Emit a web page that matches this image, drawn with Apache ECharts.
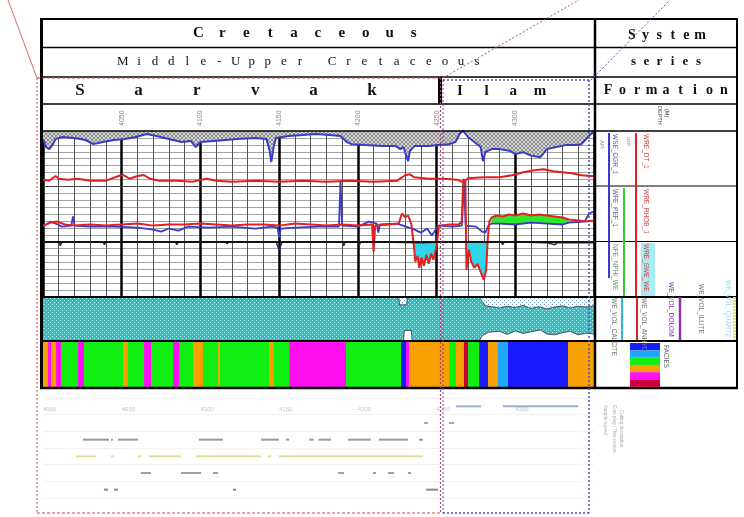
<!DOCTYPE html>
<html>
<head>
<meta charset="utf-8">
<script src="https://cdn.jsdelivr.net/npm/echarts@6/dist/echarts.min.js"></script>
<style>
  html, body { margin: 0; padding: 0; background: #fff; }
  #chart { width: 744px; height: 517px; }
</style>
</head>
<body>
<div id="chart"></div>
<script>
// depth scale (m)
var depthMin = 4000;
var depthMax = 4350;
var depthTicks = [4050, 4100, 4150, 4200, 4250, 4300];

// log curves, [depth, track value 0-120]
var grCurve = [[4000,114.2],[4002,108.4],[4004,106.9],[4006,109.8],[4008,114.2],[4012,115.6],[4020,114.9],[4027,113.5],[4032,110.5],[4038,112],[4045,113.5],[4052,114.2],[4059,115.6],[4066,117.8],[4072,116.4],[4080,114.2],[4088,112],[4094,112.7],[4097,108.4],[4100,112],[4108,112.7],[4116,113.5],[4123,114.2],[4135,114.9],[4142,114.2],[4144,105.5],[4145,97.5],[4146.5,108.4],[4148,114.9],[4156,116.4],[4165,117.1],[4173,117.8],[4182,117.1],[4189,116.4],[4193,112],[4196,110.5],[4205,109.8],[4215,109.1],[4224,109.1],[4227,106.9],[4229,108.4],[4231,101.1],[4232,98.2],[4233,105.5],[4236,109.1],[4245,109.1],[4251,109.8],[4258,110.5],[4262,112],[4265,118.5],[4267,120],[4270,115.6],[4274,112],[4278,108.4],[4279.5,98.2],[4281,104.7],[4285,106.9],[4290,106.9],[4297,105.5],[4300,103.3],[4305,104.7],[4310,102.2],[4316,101.1],[4320,106.9],[4326,108.4],[4332,109.8],[4338,109.8],[4342,110.5],[4345,114.2],[4348,117.8],[4350,119.3]];
var rtCurve = [[4000,84.8],[4004,84.1],[4008,87.5],[4010,85.5],[4016,84.8],[4022,85.5],[4030,84.1],[4040,84.1],[4048,87.5],[4051,88.2],[4055,85.5],[4060,87.5],[4064,88.2],[4068,85.5],[4074,84.1],[4085,84.1],[4095,83.4],[4104,85.5],[4110,84.1],[4120,83.4],[4135,84.1],[4150,83.4],[4165,84.1],[4180,83.4],[4195,84.1],[4210,83.4],[4225,84.1],[4230,88],[4233,88.7],[4236,86.5],[4245,85.5],[4255,85.5],[4263,84.8],[4267,82.9],[4270,85.8],[4280,86.5],[4290,86.5],[4298,88],[4305,90.2],[4312,91.6],[4318,92.4],[4324,90.9],[4330,90.2],[4336,89.5],[4342,88],[4350,87.3]];
var rhobCurve = [[4000,51.6],[4005,53.8],[4009,54.5],[4014,52.4],[4020,51.6],[4030,52.4],[4040,51.6],[4050,52.4],[4060,53.1],[4070,51.6],[4080,52.4],[4090,52.4],[4100,53.1],[4110,52.4],[4120,51.6],[4130,52.4],[4140,52.4],[4150,51.6],[4160,53.1],[4170,52.4],[4180,51.6],[4190,52.4],[4200,51.6],[4209,52.4],[4210,32.7],[4211,51.6],[4220,52.4],[4226,53.1],[4228,60.4],[4230,57.5],[4232,58.9],[4234,52.4],[4235.5,37.8],[4236.5,25.5],[4238,29.8],[4239,21.1],[4240.5,28.4],[4242,22.5],[4243.5,30.5],[4245,24],[4246.5,31.3],[4248,26.9],[4249.5,34.2],[4250.5,41.5],[4251.5,51.6],[4258,52.4],[4264,52.4],[4266,54.5],[4267,85.1],[4268.3,83.6],[4269,19.6],[4270.5,34.2],[4272,25.5],[4274,21.1],[4276,24],[4278,18.2],[4280,12.4],[4281.5,19.6],[4282.5,41.5],[4283.5,54.5],[4285,57.5],[4288,58.9],[4292,58.2],[4296,59.6],[4300,58.9],[4305,60.4],[4310,58.9],[4315,59.6],[4320,58.9],[4325,58.2],[4330,57.5],[4334,56],[4340,55.3],[4345,54.5],[4350,55.3]];
var nphiCurve = [[4000,50.9],[4005,54.5],[4008,53.1],[4012,50.9],[4018,51.6],[4019,58.2],[4020,51.6],[4030,50.9],[4045,50.9],[4060,50.2],[4070,48.7],[4075,47.3],[4080,49.5],[4086,48],[4092,50.9],[4105,50.2],[4120,50.9],[4135,49.5],[4145,50.9],[4149,50.2],[4150,42.9],[4151,49.5],[4160,50.2],[4175,50.9],[4188,50.9],[4189,83.6],[4190,51.6],[4200,50.9],[4207,54.5],[4212,53.1],[4213,46.5],[4214,52.4],[4225,53.1],[4236,48.7],[4240,46.5],[4244,49.5],[4247,44.4],[4251,51.6],[4260,50.9],[4266,51.6],[4267.5,83.6],[4268.5,51.6],[4275,50.9],[4279,47.3],[4281,46.5],[4283,51.6],[4285,53.1],[4290,53.1],[4300,52.4],[4310,53.8],[4320,53.1],[4330,52.4],[4334,53.8],[4344,54.5],[4347,60.4],[4350,61.8]];
var pefCurve = [[4000,40],[4010,40],[4011,37.1],[4012,40],[4038,40],[4039,37.8],[4040,40],[4084,40],[4085,37.8],[4086,40],[4116,40],[4117,38.5],[4118,40],[4148,40],[4150,34.2],[4152,40],[4190,40],[4191,37.1],[4192,40],[4200,40],[4201,37.8],[4202,40],[4240,39.3],[4260,40],[4291,40],[4292,37.8],[4293,40],[4320,39.3],[4325,37.8],[4327,39.3],[4350,39.3]];

// fills
var cyanZones = [[4235.5, 4250.5], [4269, 4282.5]];
var greenZone = [4284, 4334];

// lithology volume boundaries (%), top = dolomite limit, base = shale limit
var lithTop = [[4000,100],[4226,100],[4226.5,82],[4231,82],[4231.5,100],[4277,100],[4279,90],[4281,80],[4285,78],[4290,75],[4295,79],[4300,76],[4305,81],[4310,74],[4315,78],[4320,73],[4325,77],[4330,80],[4335,75],[4340,79],[4345,77],[4350,80]];
var lithBase = [[4000,0],[4229,0],[4229.5,24],[4234,24],[4234.5,0],[4277,0],[4279,12],[4283,20],[4290,22],[4295,15],[4300,23],[4305,17],[4310,21],[4316,25],[4320,16],[4325,14],[4330,19],[4335,22],[4340,14],[4345,18],[4350,16]];

// facies
var faciesColors = ['#1a1aff', '#1ea8ff', '#11ee11', '#f7a000', '#ff10f0', '#c8003c'];
var faciesTop = [4000, 4003.2, 4005.1, 4008.3, 4011.4, 4022.2, 4026.0, 4050.8, 4054.0, 4064.2, 4068.6, 4082.6, 4086.4, 4095.3, 4101.6, 4111.2, 4112.4, 4143.6, 4146.7, 4156.3, 4192.5, 4227.4, 4230.6, 4232.5, 4257.9, 4262.3, 4267.4, 4270.0, 4277.0, 4282.7, 4289.0, 4295.4, 4333.5];
var faciesCode = [3,4,3,4,2,4,2,3,2,4,2,4,2,3,2,3,2,3,2,4,2,0,4,3,2,3,5,2,0,3,1,0,3];

// sample intervals (lower panel)
var sampleRow  = [0,0, 1,1, 2,2,2,2,2,2,2,2,2,2,2, 3,3,3,3,3,3,3, 4,4,4,4,4,4,4, 5,5,5,5];
var sampleTop  = [4262.3,4292.2, 4242,4257.9, 4025.4,4043.2,4047.6,4099.1,4138.5,4154.4,4169,4175,4193.7,4213.4,4238.8, 4021,4043.2,4060.3,4067.3,4097.2,4142.9,4149.9, 4062.2,4087.7,4108,4187.4,4209.6,4219.1,4231.8, 4038.7,4045.1,4120.7,4243.3];
var sampleBase = [4278.2,4339.8, 4244.6,4261.1, 4041.9,4044.5,4060.3,4114.3,4149.9,4156.3,4172,4183,4208.3,4231.8,4241.4, 4033.7,4045.1,4062.2,4087.7,4138.5,4144.8,4241.4, 4068.6,4100.4,4111.2,4191.2,4211.5,4223,4233.8, 4041.3,4047.6,4122.6,4250.9];
var sampleColors = ['#9aaed0', '#a8a8a8', '#9c9c9c', '#e4df8c', '#a0a0a0', '#8a8a8a'];

function makePattern(bg, dot, size) {
  var c = document.createElement('canvas');
  c.width = size; c.height = size;
  var ctx = c.getContext('2d');
  ctx.fillStyle = bg; ctx.fillRect(0, 0, size, size);
  ctx.fillStyle = dot;
  ctx.fillRect(0, 0, 1, 1);
  ctx.fillRect(size / 2, size / 2, 1, 1);
  return { image: c, repeat: 'repeat' };
}
// crosshatch for the gamma fill
function makeHatch(bg, ink) {
  var c = document.createElement('canvas');
  c.width = 4; c.height = 4;
  var ctx = c.getContext('2d');
  ctx.fillStyle = bg; ctx.fillRect(0, 0, 4, 4);
  ctx.fillStyle = ink;
  for (var i = 0; i < 4; i++) { ctx.fillRect(i, i, 1, 1); ctx.fillRect(3 - i, i, 1, 1); }
  return { image: c, repeat: 'repeat' };
}
var grayHatch = makeHatch('#d6d6d6', '#8e8e8e');
var cyanDots = makePattern('#2ec0c2', '#b8f2f2', 4);
var dolDots = makePattern('#f6fbfd', '#7fa4c0', 4);

function depthAxis(gi, extra) {
  var ax = {
    type: 'value', gridIndex: gi, min: depthMin, max: depthMax, interval: 50,
    axisLine: { show: false }, axisTick: { show: false }, axisLabel: { show: false },
    splitLine: { show: false }, minorTick: { show: false, splitNumber: 5 }
  };
  for (var k in extra) ax[k] = extra[k];
  return ax;
}

function cyanFillSeries(zone) {
  return {
    type: 'line', xAxisIndex: 0, yAxisIndex: 0, showSymbol: false, silent: true,
    data: rhobCurve.filter(function (p) { return p[0] >= zone[0] && p[0] <= zone[1]; }),
    lineStyle: { width: 0 },
    areaStyle: { origin: 40, color: '#2fd6ea', opacity: 1 }
  };
}

// text helpers
function spaced(str, cx, cy, pitch, font) {
  var x0 = cx - pitch * (str.length - 1) / 2;
  return str.split('').map(function (ch, i) {
    return { type: 'text', x: x0 + i * pitch, y: cy, z: 100, silent: true,
      style: { text: ch, font: font, fill: '#111', align: 'center', verticalAlign: 'middle' } };
  });
}
function vtext(str, x, y, color, size) {
  return { type: 'text', x: x, y: y, z: 100, silent: true, rotation: -Math.PI / 2,
    style: { text: str, font: (size || 6.5) + 'px "Liberation Sans"', fill: color, align: 'left', verticalAlign: 'middle' } };
}
function line(x1, y1, x2, y2, w, color, dash) {
  return { type: 'line', z: 90, silent: true, shape: { x1: x1, y1: y1, x2: x2, y2: y2 },
    style: { stroke: color || '#000', lineWidth: w, lineDash: dash || null } };
}
function box(x, y, w, h, fill) {
  return { type: 'rect', z: 95, silent: true, shape: { x: x, y: y, width: w, height: h }, style: { fill: fill } };
}

var serifB = function (s) { return 'bold ' + s + 'px "Liberation Serif"'; };
var serifN = function (s) { return s + 'px "Liberation Serif"'; };

var graphics = []
  // frame
  .concat([
    line(40, 19, 738, 19, 2), line(41.5, 19, 41.5, 389, 3), line(737, 19, 737, 389, 2),
    line(40, 388, 738, 388, 2.5), line(40, 47.5, 737, 47.5, 1.5), line(40, 77, 737, 77, 1.5),
    line(40, 104, 737, 104, 1.5), line(40, 131, 737, 131, 1.5), line(595, 19, 595, 389, 2.5),
    line(440, 77, 440, 104, 4), line(40, 297, 737, 297, 2), line(40, 341, 737, 341, 2),
    line(595, 186, 737, 186, 1.2), line(595, 241.5, 737, 241.5, 1.2)
  ])
  // header text
  .concat(spaced('Cretaceous', 306, 33, 23.9, serifB(15)))
  .concat(spaced('Middle-Upper Cretaceous', 300, 62, 16.1, serifN(13)))
  .concat(spaced('Sarvak', 226, 91, 58.4, serifB(17)))
  .concat(spaced('Ilam', 500, 91, 26.7, serifB(15)))
  .concat(spaced('System', 666, 35, 13.6, serifB(14)))
  .concat(spaced('series', 666, 62, 13, serifB(13)))
  .concat(spaced('Formation', 666, 90, 14.5, serifB(14)))
  // legend column
  .concat([
    vtext('DEPTH', 660, 106, '#444', 5.5), vtext('(M)', 667, 109, '#444', 5.5),
    line(609, 133, 609, 278, 2, '#3a3ac8'), line(624, 188, 624, 296, 2, '#33cc33'),
    line(636, 133, 636, 296, 2, '#e02020'), box(641, 243, 14, 53, '#a6ecf4'),
    vtext('API', 602, 140, '#999', 5.5), vtext('WSE_CGR_1', 615, 134, '#6262b0'),
    vtext('us/f', 629, 137, '#999', 5.5), vtext('WRE_DT_1', 646, 134, '#cc4a4a'),
    vtext('WFE_PEF_1', 615, 189, '#6262b0'), vtext('WRE_RHOB_1', 646, 189, '#cc4a4a'),
    vtext('NFE_NPHI_WE', 615, 244, '#6a9a6a'), vtext('WRE_SWE_WE', 646, 244, '#cc4a4a'),
    line(622, 298, 622, 340, 2, '#30b8c8'), line(637, 298, 637, 340, 2, '#e02020'),
    line(680, 297, 680, 340, 2.5, '#8a35a8'), line(734.5, 297, 734.5, 340, 3, '#d8e870', [2, 1]),
    vtext('WE_VOL_CALCITE', 614, 298, '#777'), vtext('WE_VOL_ANHYD', 644, 298, '#777'),
    vtext('WE_VOL_DOLOM', 671, 282, '#8a35a8'), vtext('WE_VOL_ILLITE', 701, 284, '#777'),
    vtext('WE_VOL_QUARTZ', 728, 280, '#9ed8e8'),
    vtext('FACIES', 666, 345, '#666', 6.5),
    vtext('Sample legend', 605, 405, '#aaa', 4.5), vtext('Core plug / Thin section', 614, 405, '#aaa', 4.5),
    vtext('Cutting description', 621, 410, '#aaa', 4.5)
  ])
  .concat(faciesColors.map(function (c, i) { return box(630, 343 + i * 7.3, 30, 7.4, c); }))
  // highlight overlays
  .concat([
    line(8, 0, 37, 78, 0.8, '#c84848'),
    line(37, 78, 440, 78, 1, '#d04848', [3, 2]), line(37, 78, 37, 513, 1, '#d04848', [2, 2]),
    line(37, 513, 440, 513, 1, '#d04848', [3, 2]), line(440.5, 78, 440.5, 513, 1.2, '#b04070', [2, 2]),
    line(443, 78, 579, 0, 1, '#c85050', [2, 2]),
    line(443, 80, 590, 80, 1.5, '#5252c4', [2, 2]), line(589, 80, 589, 513, 1.5, '#5252c4', [2, 2]),
    line(443, 513, 590, 513, 1.5, '#5252c4', [2, 2]), line(443, 80, 443, 513, 1, '#6a4aa8', [2, 2]),
    line(591, 80, 670, 0, 1, '#5252c4', [2, 2])
  ]);

var option = {
  animation: false,
  backgroundColor: '#ffffff',
  grid: [
    { left: 43, top: 131, width: 551, height: 166 },
    { left: 43, top: 297, width: 551, height: 44 },
    { left: 43, top: 341, width: 551, height: 47 },
    { left: 43, top: 398, width: 551, height: 100 }
  ],
  xAxis: [
    depthAxis(0, {
      position: 'top',
      axisLabel: { show: true, rotate: 90, fontSize: 7, color: '#8a8a8a', margin: 5,
        fontFamily: 'Liberation Sans',
        formatter: function (v) { return depthTicks.indexOf(v) >= 0 ? String(v) : ''; } },
      splitLine: { show: true, lineStyle: { color: '#000', width: 2.5 } },
      minorSplitLine: { show: true, lineStyle: { color: '#555', width: 1 } }
    }),
    depthAxis(1, {
      z: 3,
      splitLine: { show: true, lineStyle: { color: 'rgba(255,255,255,0.55)', width: 1 } },
      minorSplitLine: { show: true, lineStyle: { color: 'rgba(255,255,255,0.45)', width: 1 } }
    }),
    depthAxis(2, {}),
    depthAxis(3, {
      position: 'top',
      axisLabel: { show: true, inside: true, fontSize: 6, color: '#c4c4c4', align: 'left',
        showMaxLabel: false,
        formatter: function (v) { return depthTicks.indexOf(v) >= 0 || v === depthMin ? String(v) : ''; } }
    })
  ],
  yAxis: [
    { type: 'value', gridIndex: 0, min: 0, max: 120, interval: 5,
      axisLine: { show: false }, axisTick: { show: false }, axisLabel: { show: false },
      splitLine: { show: true, lineStyle: { color: '#8c8c8c', width: 0.8 } } },
    { type: 'value', gridIndex: 1, min: 0, max: 100,
      axisLine: { show: false }, axisTick: { show: false }, axisLabel: { show: false }, splitLine: { show: false } },
    { type: 'value', gridIndex: 2, min: 0, max: 100,
      axisLine: { show: false }, axisTick: { show: false }, axisLabel: { show: false }, splitLine: { show: false } },
    { type: 'value', gridIndex: 3, min: 0, max: 6, inverse: true, interval: 1,
      axisLine: { show: false }, axisTick: { show: false }, axisLabel: { show: false },
      splitLine: { show: true, lineStyle: { color: '#f1f1f1', width: 1 } } }
  ],
  series: [
    {
      name: 'GR', type: 'line', xAxisIndex: 0, yAxisIndex: 0, showSymbol: false, silent: true,
      data: grCurve,
      lineStyle: { color: '#3a3ac8', width: 2 },
      areaStyle: { origin: 'end', color: grayHatch, opacity: 1 },
      markLine: {
        silent: true, symbol: ['none', 'none'], label: { show: false },
        data: [
          { yAxis: 80, lineStyle: { color: '#444', width: 1, type: 'solid' } },
          { yAxis: 40, lineStyle: { color: '#111', width: 2, type: 'solid' } }
        ]
      }
    },
    { name: 'DT', type: 'line', xAxisIndex: 0, yAxisIndex: 0, showSymbol: false, silent: true,
      data: rtCurve, lineStyle: { color: '#e02020', width: 2 } },
    { name: 'PEF', type: 'line', xAxisIndex: 0, yAxisIndex: 0, showSymbol: false, silent: true,
      data: pefCurve, lineStyle: { color: '#26265a', width: 1.5 } },
    cyanFillSeries(cyanZones[0]),
    cyanFillSeries(cyanZones[1]),
    {
      type: 'custom', xAxisIndex: 0, yAxisIndex: 0, silent: true,
      data: [[greenZone[0], 50]],
      renderItem: function (params, api) {
        var inZone = function (p) { return p[0] >= greenZone[0] && p[0] <= greenZone[1]; };
        var up = rhobCurve.filter(inZone).map(function (p) { return api.coord(p); });
        var lo = nphiCurve.filter(inZone).map(function (p) { return api.coord(p); }).reverse();
        return { type: 'polygon', shape: { points: up.concat(lo) }, style: { fill: '#2fe62f' } };
      }
    },
    { name: 'NPHI', type: 'line', xAxisIndex: 0, yAxisIndex: 0, showSymbol: false, silent: true,
      data: nphiCurve, lineStyle: { color: '#3a3ac8', width: 1.8 } },
    { name: 'RHOB', type: 'line', xAxisIndex: 0, yAxisIndex: 0, showSymbol: false, silent: true,
      data: rhobCurve, lineStyle: { color: '#e42020', width: 2 } },

    // lithology
    { type: 'line', xAxisIndex: 1, yAxisIndex: 1, showSymbol: false, silent: true,
      data: [[depthMin, 100], [depthMax, 100]], lineStyle: { width: 0 },
      areaStyle: { origin: 'start', color: cyanDots, opacity: 1 } },
    { type: 'line', xAxisIndex: 1, yAxisIndex: 1, showSymbol: false, silent: true,
      data: lithTop, lineStyle: { color: '#4a5060', width: 1 },
      areaStyle: { origin: 'end', color: dolDots, opacity: 1 } },
    { type: 'line', xAxisIndex: 1, yAxisIndex: 1, showSymbol: false, silent: true,
      data: lithBase, lineStyle: { color: '#4a5060', width: 1 },
      areaStyle: { origin: 'start', color: '#ffffff', opacity: 1 } },

    // facies
    {
      type: 'custom', xAxisIndex: 2, yAxisIndex: 2, silent: true,
      data: faciesTop.map(function (t, i) {
        return [t, i + 1 < faciesTop.length ? faciesTop[i + 1] : depthMax, faciesCode[i]];
      }),
      encode: { x: [0, 1] },
      renderItem: function (params, api) {
        var p0 = api.coord([api.value(0), 100]);
        var p1 = api.coord([api.value(1), 0]);
        return { type: 'rect', shape: { x: p0[0], y: p0[1], width: p1[0] - p0[0] + 0.5, height: p1[1] - p0[1] },
          style: { fill: faciesColors[api.value(2)] } };
      }
    },

    // samples
    {
      type: 'custom', xAxisIndex: 3, yAxisIndex: 3, silent: true,
      data: sampleRow.map(function (r, i) { return [sampleTop[i], sampleBase[i], r]; }),
      encode: { x: [0, 1] },
      renderItem: function (params, api) {
        var r = api.value(2);
        var p0 = api.coord([api.value(0), r + 0.5]);
        var p1 = api.coord([api.value(1), r + 0.5]);
        return { type: 'rect', shape: { x: p0[0], y: p0[1] - 1, width: Math.max(p1[0] - p0[0], 2), height: 2 },
          style: { fill: sampleColors[r] } };
      }
    }
  ],
  graphic: { elements: graphics }
};

var chart = echarts.init(document.getElementById('chart'));
chart.setOption(option);
</script>
</body>
</html>
